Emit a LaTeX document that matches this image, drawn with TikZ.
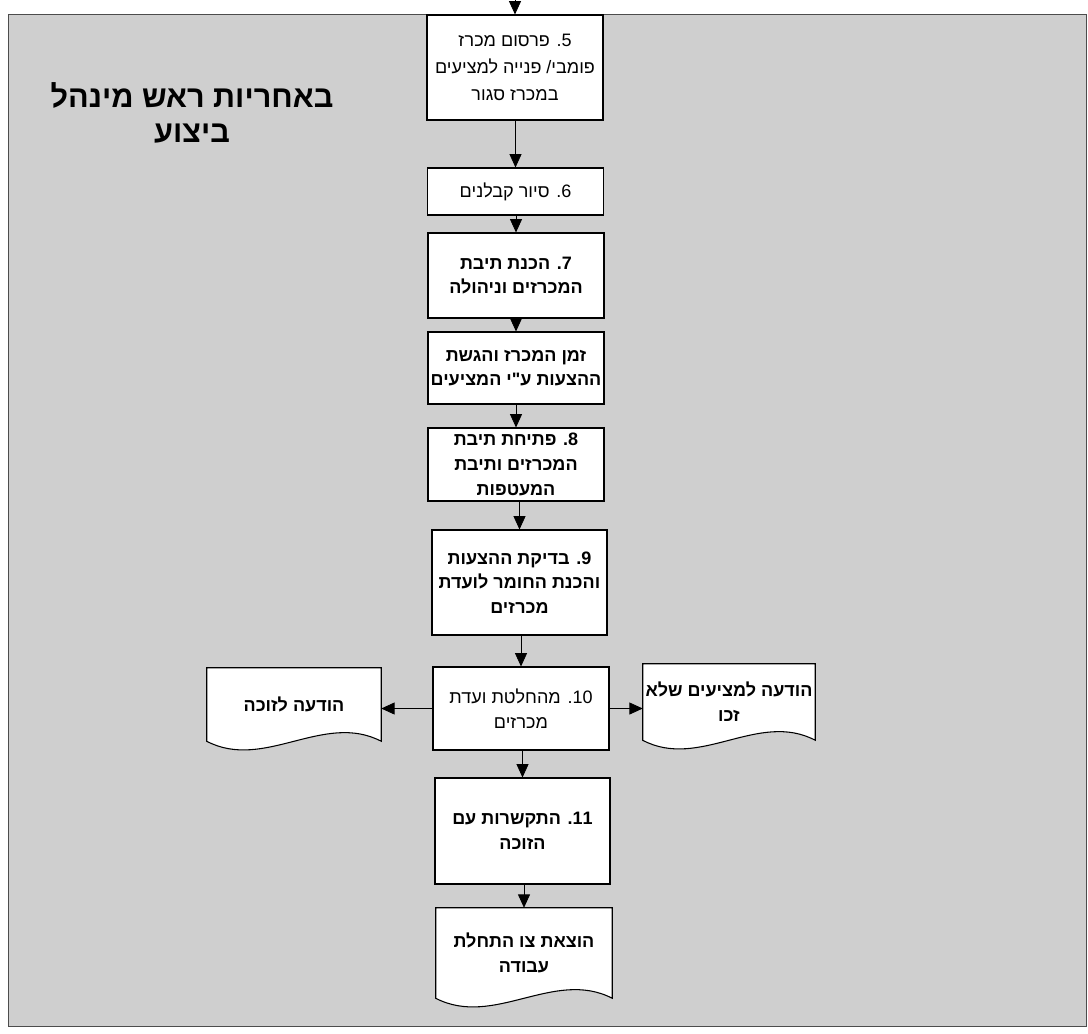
\documentclass[tikz,border=0pt]{standalone}
\usepackage{fontspec}
\newfontfamily\hebfont[Script=Hebrew]{Liberation Sans}
\TeXXeTstate=1
\usetikzlibrary{arrows.meta,calc}
\pgfdeclarelayer{bg}
\pgfdeclarelayer{mid}
\pgfsetlayers{bg,mid,main}
\newcommand{\rtline}[1]{\beginR #1\endR}
\newcommand{\docshape}[1]{%
  \draw[docline] (#1.south east) -- (#1.north east) -- (#1.north west) -- (#1.south west)
    .. controls ($(#1.south west)!0.33!(#1.south east)+(0,30)$) and ($(#1.south west)!0.67!(#1.south east)+(0,-30)$) .. (#1.south east) -- cycle ;}

\begin{document}
\begin{tikzpicture}[x=0.75pt,y=0.75pt,yscale=-1,xscale=1,
  stepbox/.style={draw, line width=0.8pt, fill=white, align=center, inner sep=0pt, minimum width=132pt, font=\hebfont\fontsize{13.5}{18.5}\selectfont},
  boldbox/.style={stepbox, font=\hebfont\bfseries\fontsize{13.5}{18.5}\selectfont},
  docnode/.style={align=center, inner sep=0pt, minimum width=132pt, font=\hebfont\bfseries\fontsize{13.5}{18.5}\selectfont},
  docline/.style={draw, fill=white, line width=0.8pt},
  arr/.style={-{Triangle[length=10pt,width=9pt]}, line width=0.6pt},
  titletext/.style={align=center, inner sep=0pt, font=\hebfont\bfseries\fontsize{23}{26}\selectfont}]
\useasboundingbox (0,0) rectangle (1088,1033);

%Shape: Rect - stippled sheet
\begin{pgfonlayer}{bg}
\draw [fill=black!19, draw=black!70, line width=0.6pt] (8,14) rectangle (1086,1026) ;
\end{pgfonlayer}

% Text Node - title
\node [titletext] (ttl) at (192,113) {\rtline{באחריות ראש מינהל}\\\rtline{ביצוע}};

% Step 5
\node [stepbox, minimum height=78.75pt, font=\hebfont\fontsize{13.5}{20.5}\selectfont] (b5) at (515,67.5) {\rtline{5\kern0pt. פרסום מכרז}\\\rtline{פומבי\kern0pt/ פנייה למציעים}\\\rtline{במכרז סגור}};
% Step 6
\node [stepbox, minimum height=35.25pt] (b6) at (515.5,191.5) {\rtline{6\kern0pt. סיור קבלנים}};
% Step 7
\node [boldbox, minimum height=63.75pt] (b7) at (516,275.5) {\rtline{7\kern0pt. הכנת תיבת}\\\rtline{המכרזים וניהולה}};
% Bid time
\node [boldbox, minimum height=54pt] (bz) at (516,368) {\rtline{זמן המכרז והגשת}\\\rtline{ההצעות ע"י המציעים}};
% Step 8
\node [boldbox, minimum height=54.75pt] (b8) at (516,464.5) {\rtline{8\kern0pt. פתיחת תיבת}\\\rtline{המכרזים ותיבת}\\\rtline{המעטפות}};
% Step 9
\node [boldbox, minimum height=78.75pt, minimum width=131.25pt] (b9) at (519.5,582.5) {\rtline{9\kern0pt. בדיקת ההצעות}\\\rtline{והכנת החומר לועדת}\\\rtline{מכרזים}};
% Step 10
\node [stepbox, minimum height=62.25pt] (b10) at (521,708.5) {\rtline{10\kern0pt. מהחלטת ועדת}\\\rtline{מכרזים}};
% Step 11
\node [boldbox, minimum height=79.5pt, minimum width=131.25pt] (b11) at (522.5,831) {\rtline{11\kern0pt. התקשרות עם}\\\rtline{הזוכה}};

% Documents
\node [docnode, minimum height=67.5pt] (dB) at (524,953) {\rtline{הוצאת צו התחלת}\\\rtline{עבודה}};
\node [docnode, minimum height=54.75pt, minimum width=130.5pt] (dL) at (294,704.5) {\rtline{הודעה לזוכה}};
\node [docnode, minimum height=57pt, minimum width=129pt] (dR) at (729,702) {\rtline{הודעה למציעים שלא}\\\rtline{זכו}};
\begin{pgfonlayer}{mid}
\docshape{dB}
\docshape{dL}
\docshape{dR}
\end{pgfonlayer}

%Straight Lines
\coordinate (in) at (515,-10);
\draw [arr] (in) -- (b5.north) ;
\draw [arr] (b6.north |- b5.south) -- (b6.north) ;
\draw [arr] (b7.north |- b6.south) -- (b7.north) ;
\draw [arr] (bz.north |- b7.south) -- (bz.north) ;
\draw [arr] (b8.north |- bz.south) -- (b8.north) ;
\draw [arr] (b9.north |- b8.south) -- (b9.north) ;
\draw [arr] (b10.north |- b9.south) -- (b10.north) ;
\draw [arr] (b11.north |- b10.south) -- (b11.north) ;
\draw [arr] (dB.north |- b11.south) -- (dB.north) ;
%Straight Lines - side notices
\draw [arr] (b10.west) -- (b10.west -| dL.east) ;
\draw [arr] (b10.east) -- (b10.east -| dR.west) ;

\end{tikzpicture}
\end{document}
